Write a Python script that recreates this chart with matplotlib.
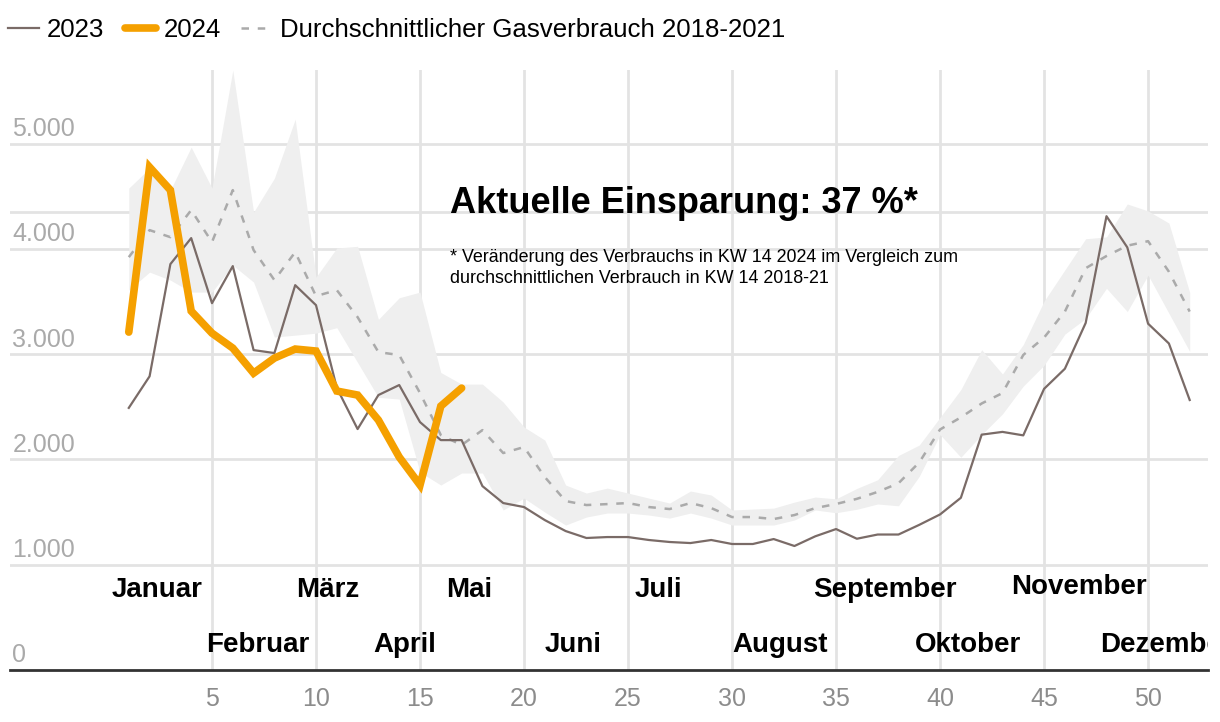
import numpy as np
import matplotlib.pyplot as plt
from matplotlib.lines import Line2D

plt.rcParams['font.family'] = ['Liberation Sans', 'DejaVu Sans']

# Kalenderwochen
weeks = list(range(1, 53))

# Gasverbrauch 2023 (KW 1-52)
gas_2023 = [2490, 2790, 3856, 4103, 3485, 3837, 3039, 3011, 3656, 3466,
            2680, 2289, 2612, 2707, 2355, 2184, 2184, 1747, 1586, 1548,
            1424, 1320, 1254, 1263, 1263, 1235, 1216, 1206, 1235, 1197,
            1197, 1244, 1178, 1270, 1339, 1247, 1287, 1287, 1379, 1478,
            1636, 2236, 2262, 2229, 2671, 2862, 3297, 4311, 4015, 3290,
            3102, 2565]

# Gasverbrauch 2024 (KW 1-17)
gas_2024 = [3210, 4777, 4559, 3410, 3200, 3058, 2820, 2963, 3049, 3030,
            2650, 2612, 2374, 2023, 1757, 2507, 2678]

# Durchschnitt 2018-2021
avg_1821 = [3922, 4179, 4112, 4369, 4065, 4559, 3989, 3704, 3970, 3552,
            3609, 3352, 3020, 2992, 2631, 2232, 2137, 2279, 2061, 2118,
            1833, 1605, 1567, 1576, 1586, 1548, 1529, 1586, 1538, 1453,
            1453, 1434, 1472, 1538, 1577, 1626, 1692, 1774, 1972, 2285,
            2400, 2532, 2631, 2993, 3158, 3405, 3817, 3933, 4031, 4074,
            3784, 3405]

# Spannweite 2018-2021 (min / max)
band_high = [4578, 4767, 4559, 4967, 4578, 5698, 4350, 4672, 5233, 3732,
             4009, 4025, 3331, 3536, 3590, 2826, 2716, 2716, 2545, 2308,
             2184, 1757, 1681, 1728, 1681, 1633, 1586, 1700, 1662, 1520,
             1529, 1538, 1595, 1643, 1626, 1725, 1807, 2038, 2137, 2400,
             2664, 3043, 2812, 3092, 3504, 3801, 4097, 4114, 4427, 4361,
             4246, 3587]
band_low = [3609, 3780, 3704, 3590, 3590, 3846, 3685, 3163, 3181, 3200,
            3252, 2921, 2590, 2574, 1880, 1757, 1871, 1871, 1520, 1633,
            1500, 1377, 1453, 1491, 1491, 1472, 1443, 1491, 1443, 1377,
            1377, 1377, 1425, 1520, 1494, 1527, 1577, 1560, 1840, 2236,
            2021, 2236, 2433, 2697, 2895, 3191, 3339, 3626, 3405, 3751,
            3389, 3026]

y_ticks = [0, 1000, 2000, 3000, 4000, 5000]
extra_grid = [4350]
x_ticks = [5, 10, 15, 20, 25, 30, 35, 40, 45, 50]

months = ['Januar', 'Februar', 'März', 'April', 'Mai', 'Juni', 'Juli',
          'August', 'September', 'Oktober', 'November', 'Dezember']
month_x = [0.19, 4.7, 9.05, 12.75, 16.25, 21.0, 25.3, 30.0, 33.9, 38.8, 43.4, 47.7]
month_y = [760, 237, 760, 237, 760, 237, 760, 237, 760, 237, 788, 237]

c_2023 = '#7a6b67'
c_2024 = '#f5a000'
c_avg = '#aaaaaa'
c_band = '#efefef'
c_grid = '#e3e3e3'

fig = plt.figure(figsize=(12.2, 7.22), dpi=100)
ax = fig.add_axes([10/1220, 52/722, 1198/1220, 600/722])
ax.set_xlim(-4.71, 52.88)
ax.set_ylim(0, 5700)

# grid
for v in y_ticks[1:] + extra_grid:
    ax.axhline(v, color=c_grid, lw=2, zorder=0)
for w in x_ticks:
    ax.axvline(w, color=c_grid, lw=2, zorder=0)

ax.fill_between(weeks, band_low, band_high, color=c_band, lw=0, zorder=1)
ax.plot(weeks, avg_1821, color=c_avg, lw=1.8, dashes=(3, 3.5), zorder=2)
ax.plot(weeks, gas_2023, color=c_2023, lw=1.6, zorder=3)
ax.plot(weeks[:len(gas_2024)], gas_2024, color=c_2024, lw=5.5,
        solid_capstyle='round', solid_joinstyle='miter', zorder=4)

for s in ['top', 'right', 'left']:
    ax.spines[s].set_visible(False)
ax.spines['bottom'].set_color('#333333')
ax.spines['bottom'].set_linewidth(2)
ax.set_yticks([])
ax.set_xticks(x_ticks)
ax.set_xticklabels([str(w) for w in x_ticks], fontsize=18, color='#8c8c8c')
ax.tick_params(axis='x', length=0, pad=12)

for v in y_ticks:
    lab = f'{v:,}'.replace(',', '.')
    ax.text(-4.6, v + 25, lab, fontsize=18, color='#aaaaaa',
            ha='left', va='bottom')

for name, mx, my in zip(months, month_x, month_y):
    ax.text(mx, my, name, fontsize=20, fontweight='bold', color='black',
            ha='left', va='center', clip_on=True)

ax.text(16.44, 4435, 'Aktuelle Einsparung: 37 %*', fontsize=26,
        fontweight='bold', ha='left', va='center')
ax.text(16.44, 3818, '* Veränderung des Verbrauchs in KW 14 2024 im Vergleich zum\n'
        'durchschnittlichen Verbrauch in KW 14 2018-21', fontsize=12.9,
        ha='left', va='center', linespacing=1.3)

handles = [Line2D([], [], color=c_2023, lw=1.6),
           Line2D([], [], color=c_2024, lw=5.5, solid_capstyle='round'),
           Line2D([], [], color=c_avg, lw=1.8, dashes=(3, 3.5))]
fig.legend(handles, ['2023', '2024', 'Durchschnittlicher Gasverbrauch 2018-2021'],
           loc='upper left', bbox_to_anchor=(-0.002, 0.99), ncol=3, frameon=False,
           fontsize=18.6, handlelength=1.2, handletextpad=0.3,
           columnspacing=0.8, borderaxespad=0.0)

fig.savefig('out.png', dpi=100)
